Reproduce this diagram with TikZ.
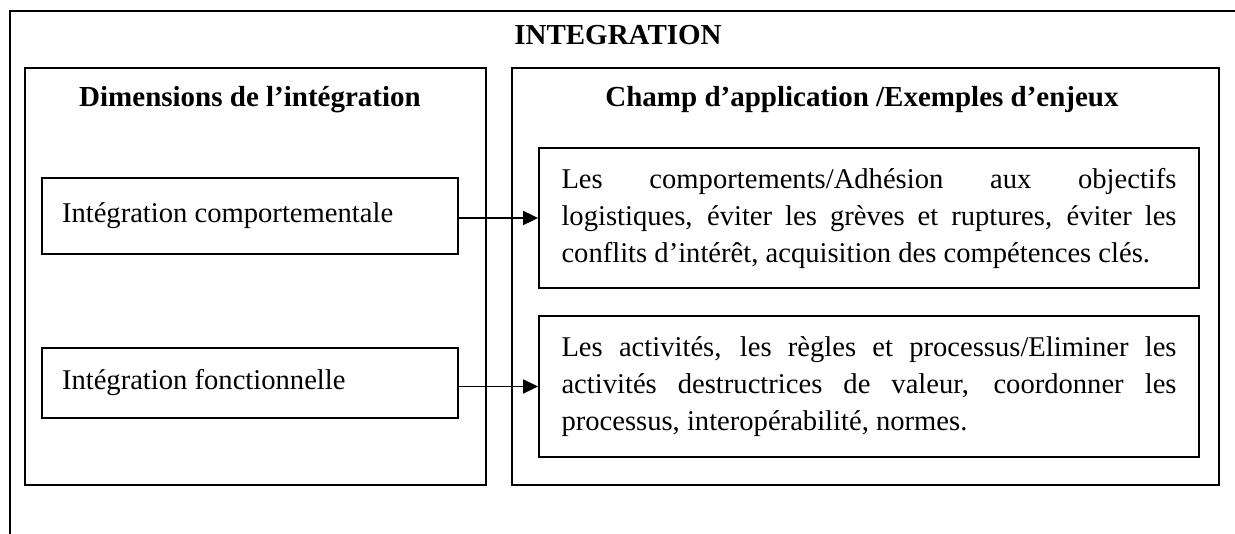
\documentclass[tikz,border=0pt]{standalone}
\usepackage{fontspec}
\setmainfont{Liberation Serif}
\usetikzlibrary{arrows.meta}

% justified line across the whole text width
\newcommand{\lignepleine}[1]{\makebox[\hsize][s]{#1}}

\begin{document}
\begin{tikzpicture}[x=0.5pt,y=-0.5pt,
        boite/.style={draw, line width=0.9pt, inner xsep=0pt, inner ysep=0pt},
        corps/.style={font=\fontsize{14.3}{18.5}\selectfont},
        titre/.style={font=\bfseries\fontsize{14.5}{16}\selectfont},
        fleche/.style={line width=0.9pt, -{Triangle[length=7.5pt,width=7pt]}}]
        \useasboundingbox (0,0) rectangle (1235,534);

        % Outer frame (top and left edges)
        \draw[line width=1.4pt] (10,534) -- (10,11) -- (1235,11);
        \node[titre] (integ) at (618,35) {INTEGRATION};

        % Two columns
        \draw[line width=0.9pt] (25,68) rectangle (486,485);
        \draw[line width=0.9pt] (512,68) rectangle (1219,485);
        \node[titre] (dim) at (250,100) {Dimensions de l’intégration};
        \node[titre] (champ) at (862,100) {Champ d’application /Exemples d’enjeux};

        % Dimensions (left)
        \node[boite, corps, minimum width=208pt, minimum height=38pt, text width=188pt, align=justify]
            (comp) at (250,216) {Intégration comportementale\par\vspace{9pt}};
        \node[boite, corps, minimum width=208pt, minimum height=35pt, text width=188pt, align=justify]
            (fonc) at (250,383) {Intégration fonctionnelle\par\vspace{8pt}};

        % Examples (right)
        \node[boite, corps, minimum width=330pt, minimum height=70pt, text width=307.5pt, align=justify]
            (adh) at (869,218) {\lignepleine{Les comportements/Adhésion aux objectifs}\\
            \lignepleine{logistiques, éviter les grèves et ruptures, éviter les}\\
            conflits d’intérêt, acquisition des compétences clés.\par\vspace{2pt}};
        \node[boite, corps, minimum width=330pt, minimum height=70.5pt, text width=307.5pt, align=justify]
            (proc) at (869,386.5) {\lignepleine{Les activités, les règles et processus/Eliminer les}\\
            \lignepleine{activités destructrices de valeur, coordonner les}\\
            processus, interopérabilité, normes.\par\vspace{3pt}};

        % Arrows
        \draw[fleche] (adh.west -| comp.east) -- (adh.west);
        \draw[fleche] (proc.west -| fonc.east) -- (proc.west);
\end{tikzpicture}
\end{document}
